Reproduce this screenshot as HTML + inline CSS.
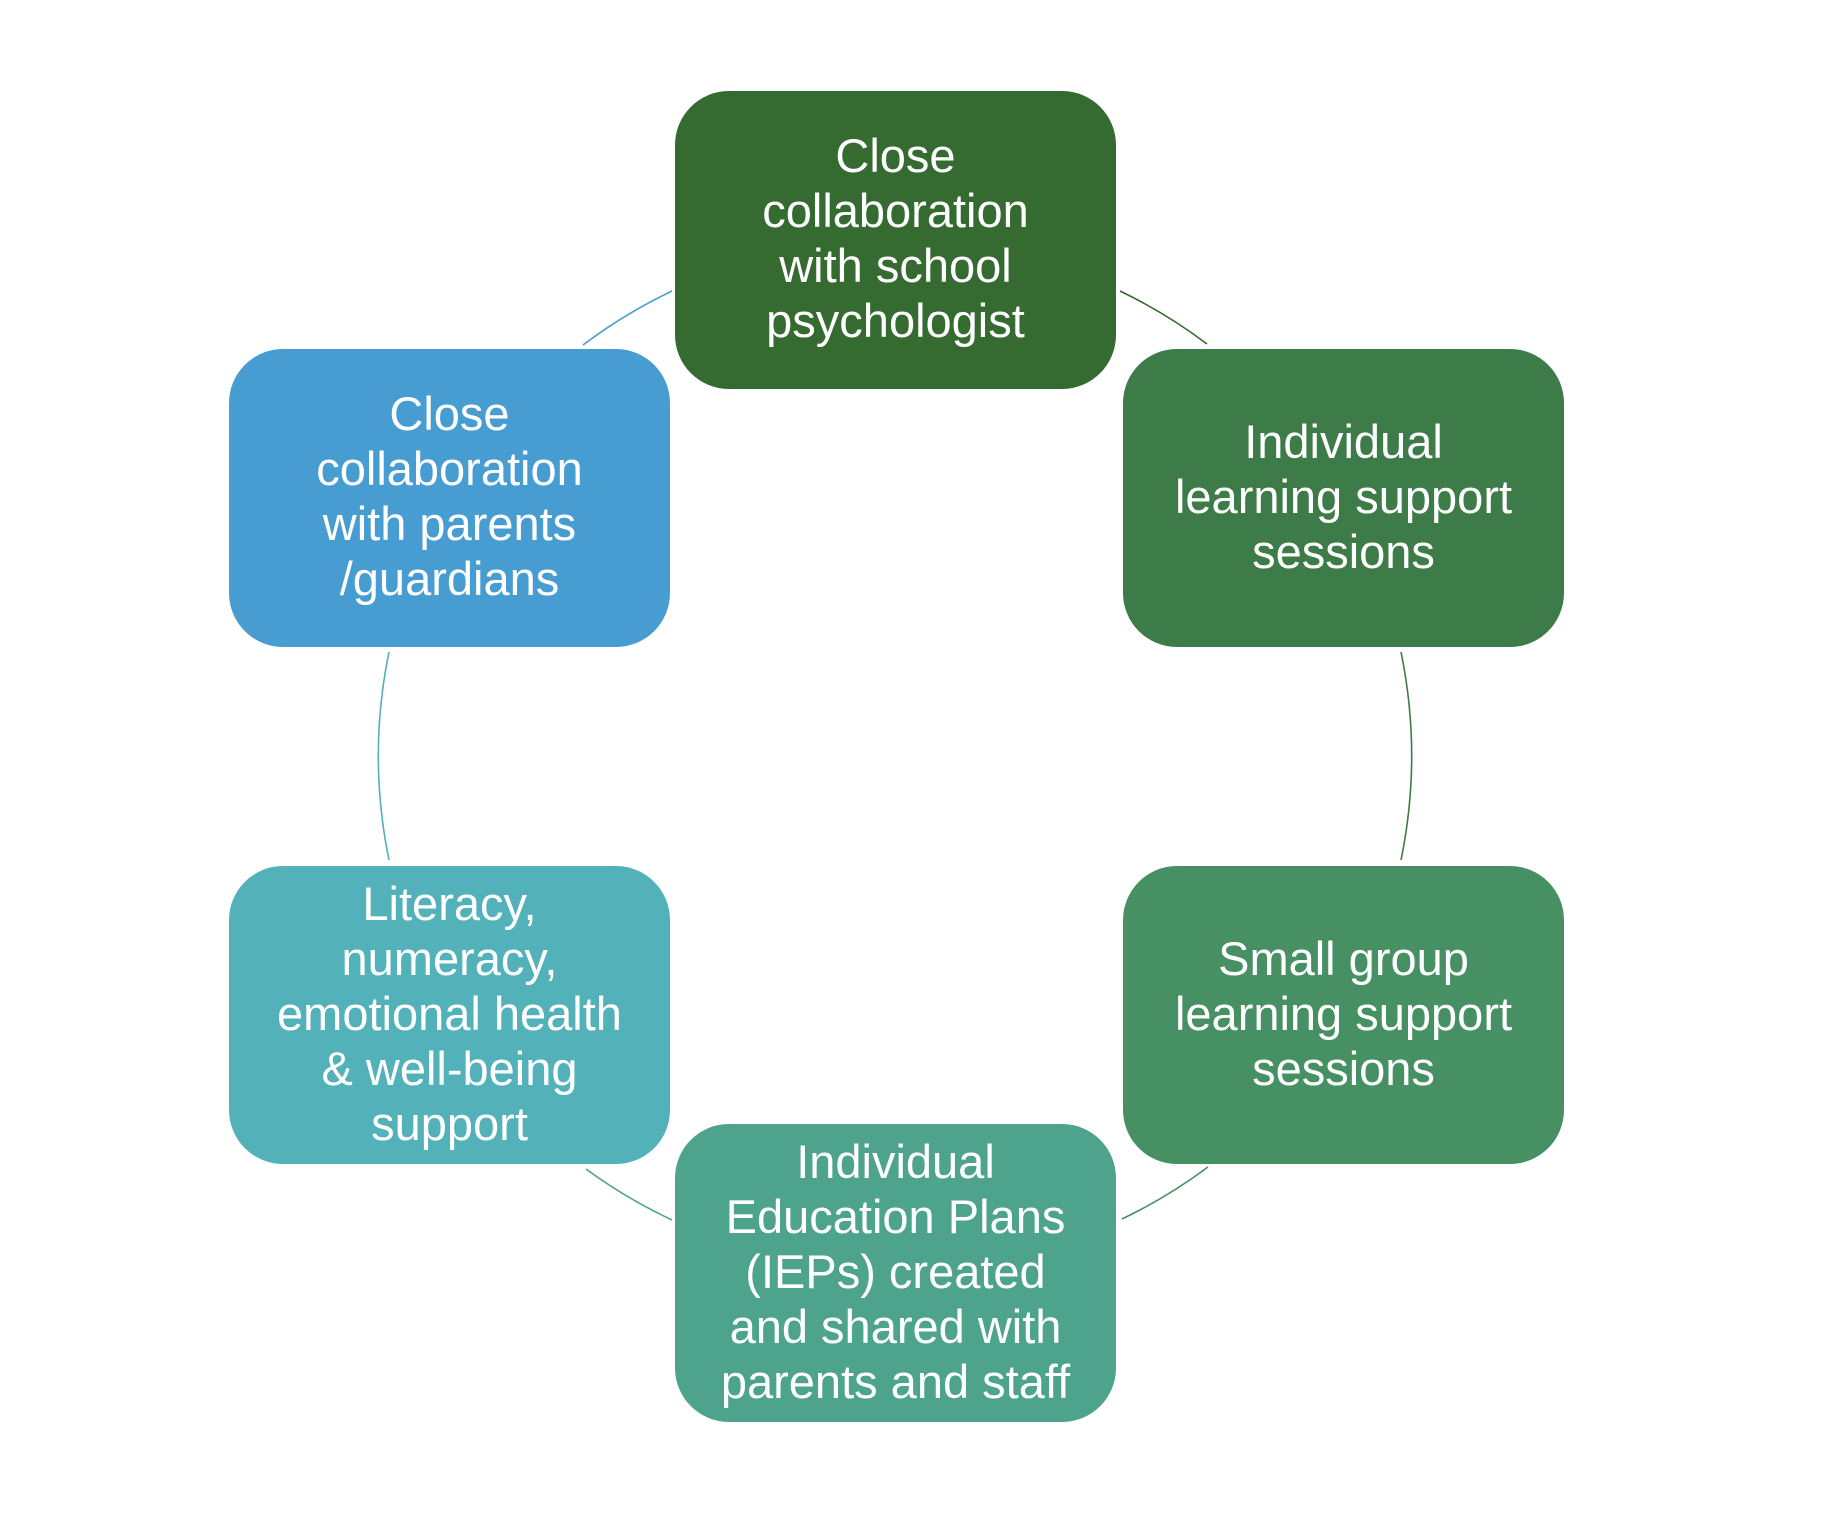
<!DOCTYPE html>
<html><head><meta charset="utf-8"><style>
body{margin:0;width:1848px;height:1524px;background:#fff;position:relative;overflow:hidden}
.b{position:absolute;width:441px;height:298px;border-radius:54px;display:flex;align-items:center;justify-content:center;text-align:center;color:#fff;font-family:"Liberation Sans",sans-serif;font-size:47px;line-height:55px;box-sizing:border-box;padding:0 6px 4px}
svg{position:absolute;left:0;top:0}
</style></head><body>
<svg width="1848" height="1524" fill="none" stroke-width="1.6">
<path d="M583 345 A516 516 0 0 1 672 291" stroke="#479DD1"/>
<path d="M1120 291 A516 516 0 0 1 1207 344" stroke="#356B31"/>
<path d="M1401 652 A516 516 0 0 1 1401 860" stroke="#3D7B48"/>
<path d="M1208 1167 A516 516 0 0 1 1122 1219" stroke="#469063"/>
<path d="M672 1220 A516 516 0 0 1 586 1169" stroke="#4DA38B"/>
<path d="M389 860 A516 516 0 0 1 389 652" stroke="#53B1BA"/>
</svg>
<div class="b" style="left:675px;top:91px;background:#356B31">Close<br>collaboration<br>with school<br>psychologist</div>
<div class="b" style="left:1123px;top:349px;background:#3D7B48">Individual<br>learning support<br>sessions</div>
<div class="b" style="left:1123px;top:866px;background:#469063">Small group<br>learning support<br>sessions</div>
<div class="b" style="left:675px;top:1124px;background:#4DA38B">Individual<br>Education Plans<br>(IEPs) created<br>and shared with<br>parents and staff</div>
<div class="b" style="left:229px;top:866px;background:#53B1BA">Literacy,<br>numeracy,<br>emotional health<br>&amp; well-being<br>support</div>
<div class="b" style="left:229px;top:349px;background:#479DD1">Close<br>collaboration<br>with parents<br>/guardians</div>
</body></html>
